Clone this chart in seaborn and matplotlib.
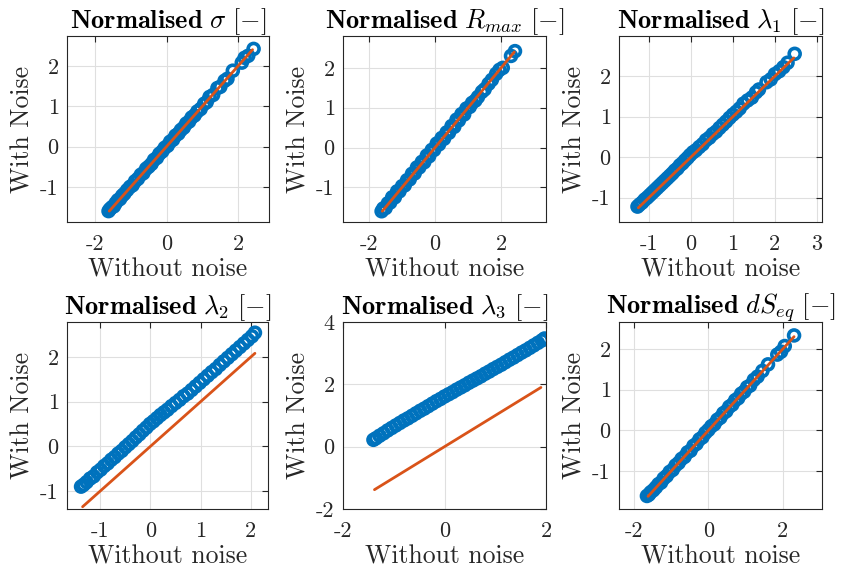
import numpy as np
import pandas as pd
import matplotlib
matplotlib.use("Agg")
import matplotlib.pyplot as plt
import seaborn as sns

# ---------------- data ----------------
titles = [r"$\mathbf{Normalised}\ \sigma\ [-]$",
          r"$\mathbf{Normalised}\ R_{max}\ [-]$",
          r"$\mathbf{Normalised}\ \lambda_1\ [-]$",
          r"$\mathbf{Normalised}\ \lambda_2\ [-]$",
          r"$\mathbf{Normalised}\ \lambda_3\ [-]$",
          r"$\mathbf{Normalised}\ dS_{eq}\ [-]$"]

x_sigma = [-1.62, -1.58, -1.52, -1.47, -1.42, -1.36, -1.3, -1.24, -1.18, -1.1, -1.02, -0.95, -0.88, -0.8,
           -0.72, -0.65, -0.57, -0.5, -0.42, -0.35, -0.27, -0.2, -0.12, -0.05, 0.03, 0.1, 0.18, 0.25, 0.33,
           0.4, 0.48, 0.55, 0.63, 0.7, 0.78, 0.86, 0.95, 1.05, 1.12, 1.2, 1.3, 1.42, 1.5, 1.62, 1.7, 1.85,
           2.1, 2.18, 2.28, 2.43]
y_sigma = [-1.6, -1.55, -1.5, -1.48, -1.4, -1.33, -1.3, -1.22, -1.17, -1.08, -1.0, -0.96, -0.86, -0.8,
           -0.7, -0.66, -0.55, -0.5, -0.43, -0.33, -0.28, -0.18, -0.12, -0.03, 0.02, 0.12, 0.17, 0.27, 0.32,
           0.41, 0.47, 0.57, 0.62, 0.72, 0.77, 0.87, 0.93, 1.06, 1.1, 1.23, 1.28, 1.45, 1.48, 1.63, 1.68, 1.88,
           2.08, 2.2, 2.25, 2.42]

x_rmax = [-1.62, -1.57, -1.5, -1.43, -1.36, -1.3, -1.22, -1.15, -1.08, -1.0, -0.92, -0.85, -0.77, -0.7,
          -0.62, -0.55, -0.48, -0.4, -0.33, -0.25, -0.18, -0.1, -0.03, 0.05, 0.12, 0.2, 0.27, 0.35, 0.42,
          0.5, 0.58, 0.65, 0.72, 0.8, 0.88, 0.95, 1.05, 1.12, 1.22, 1.3, 1.42, 1.5, 1.62, 1.72, 1.85, 1.95,
          2.05, 2.3, 2.42]
y_rmax = [-1.6, -1.53, -1.52, -1.4, -1.38, -1.25, -1.25, -1.1, -1.1, -0.97, -0.95, -0.82, -0.8, -0.66,
          -0.65, -0.5, -0.5, -0.36, -0.37, -0.2, -0.22, -0.06, -0.06, 0.1, 0.08, 0.24, 0.22, 0.38, 0.37,
          0.54, 0.52, 0.7, 0.68, 0.84, 0.83, 0.98, 1.02, 1.12, 1.18, 1.27, 1.4, 1.46, 1.6, 1.7, 1.85, 1.95,
          2.0, 2.3, 2.42]

x_lam1 = [-1.27, -1.22, -1.16, -1.1, -1.04, -0.98, -0.92, -0.86, -0.8, -0.74, -0.68, -0.62, -0.56, -0.5,
          -0.44, -0.38, -0.32, -0.26, -0.2, -0.14, -0.08, -0.02, 0.05, 0.12, 0.2, 0.28, 0.36, 0.44, 0.52,
          0.6, 0.68, 0.76, 0.84, 0.92, 1.0, 1.08, 1.16, 1.25, 1.35, 1.45, 1.55, 1.62, 1.8, 1.9, 2.0, 2.1,
          2.2, 2.3, 2.47]
y_lam1 = [-1.22, -1.17, -1.12, -1.05, -1.0, -0.94, -0.88, -0.82, -0.76, -0.7, -0.64, -0.58, -0.52, -0.46,
          -0.4, -0.33, -0.28, -0.2, -0.15, -0.08, -0.02, 0.05, 0.12, 0.17, 0.25, 0.32, 0.42, 0.48, 0.57,
          0.63, 0.72, 0.8, 0.88, 0.97, 1.05, 1.12, 1.2, 1.32, 1.4, 1.47, 1.6, 1.67, 1.85, 1.92, 2.05, 2.12,
          2.22, 2.33, 2.55]

x_lam2 = [-1.38, -1.33, -1.27, -1.2, -1.13, -1.06, -0.99, -0.92, -0.85, -0.78, -0.71, -0.64, -0.57, -0.5,
          -0.43, -0.36, -0.29, -0.22, -0.15, -0.08, -0.01, 0.06, 0.13, 0.2, 0.27, 0.34, 0.42, 0.5, 0.58,
          0.66, 0.74, 0.82, 0.9, 0.98, 1.06, 1.14, 1.22, 1.3, 1.38, 1.46, 1.54, 1.62, 1.7, 1.78, 1.86, 1.94,
          2.02, 2.08]
y_lam2 = [-0.9, -0.86, -0.8, -0.72, -0.67, -0.58, -0.52, -0.44, -0.38, -0.3, -0.24, -0.16, -0.1, -0.02,
          0.05, 0.12, 0.2, 0.27, 0.35, 0.42, 0.5, 0.56, 0.63, 0.7, 0.76, 0.82, 0.9, 0.97, 1.04, 1.12, 1.18,
          1.26, 1.34, 1.42, 1.5, 1.58, 1.66, 1.73, 1.82, 1.9, 1.98, 2.06, 2.14, 2.22, 2.3, 2.38, 2.46, 2.54]

x_lam3 = [-1.4, -1.35, -1.28, -1.2, -1.12, -1.04, -0.96, -0.88, -0.8, -0.72, -0.64, -0.56, -0.48, -0.4,
          -0.32, -0.24, -0.16, -0.08, 0.0, 0.08, 0.16, 0.24, 0.32, 0.4, 0.48, 0.56, 0.64, 0.72, 0.8, 0.88,
          0.96, 1.04, 1.12, 1.2, 1.28, 1.36, 1.44, 1.52, 1.6, 1.68, 1.76, 1.84, 1.92, 1.97]
y_lam3 = [0.22, 0.27, 0.35, 0.43, 0.52, 0.6, 0.68, 0.76, 0.84, 0.91, 0.99, 1.07, 1.15, 1.22, 1.3, 1.38,
          1.46, 1.53, 1.61, 1.68, 1.75, 1.83, 1.9, 1.97, 2.05, 2.12, 2.19, 2.26, 2.34, 2.41, 2.49, 2.56,
          2.63, 2.71, 2.79, 2.86, 2.94, 3.02, 3.09, 3.17, 3.25, 3.33, 3.41, 3.47]

x_dseq = [-1.65, -1.6, -1.55, -1.48, -1.41, -1.34, -1.27, -1.2, -1.12, -1.04, -0.96, -0.88, -0.8, -0.72,
          -0.64, -0.56, -0.48, -0.4, -0.32, -0.24, -0.16, -0.08, 0.0, 0.08, 0.16, 0.24, 0.32, 0.4, 0.48,
          0.56, 0.64, 0.72, 0.8, 0.88, 0.96, 1.04, 1.12, 1.22, 1.32, 1.45, 1.6, 1.85, 1.95, 2.05, 2.3]
y_dseq = [-1.61, -1.58, -1.52, -1.47, -1.4, -1.32, -1.28, -1.18, -1.12, -1.02, -0.97, -0.86, -0.8, -0.7,
          -0.65, -0.54, -0.5, -0.38, -0.33, -0.22, -0.17, -0.06, 0.01, 0.1, 0.15, 0.26, 0.31, 0.42, 0.47,
          0.58, 0.63, 0.74, 0.79, 0.9, 0.95, 1.06, 1.1, 1.24, 1.32, 1.46, 1.62, 1.86, 1.93, 2.07, 2.33]

# reference line (y = x) end points
line_ends = [(-1.6, 2.4), (-1.6, 2.4), (-1.25, 2.45), (-1.35, 2.08), (-1.38, 1.9), (-1.62, 2.3)]

xs = [x_sigma, x_rmax, x_lam1, x_lam2, x_lam3, x_dseq]
ys = [y_sigma, y_rmax, y_lam1, y_lam2, y_lam3, y_dseq]

xlims = [(-2.78, 2.86), (-2.79, 3.36), (-1.71, 3.12), (-1.66, 2.34), (-2, 2), (-2.4, 3.05)]
ylims = [(-1.87, 2.74), (-1.87, 2.8), (-1.6, 2.99), (-1.4, 2.78), (-2, 4), (-1.93, 2.66)]
xticks = [[-2, 0, 2], [-2, 0, 2], [-1, 0, 1, 2, 3], [-1, 0, 1, 2], [-2, 0, 2], [-2, 0, 2]]
yticks = [[-1, 0, 1, 2], [-1, 0, 1, 2], [-1, 0, 1, 2], [-1, 0, 1, 2], [-2, 0, 2, 4], [-1, 0, 1, 2]]

# ---------------- style ----------------
sns.set_style("white")
plt.rcParams.update({
    "font.family": ["serif"],
    "font.serif": ["cmr10"],
    "mathtext.fontset": "cm",
    "axes.unicode_minus": False,
    "axes.formatter.use_mathtext": False,
})

BLUE = "#0072BD"
RED = "#D95319"
EDGE = "#262626"

fig = plt.figure(figsize=(8.49, 5.72), dpi=100)
W, H = 849.0, 572.0
boxes = [(67, 269, 36, 222), (343, 546, 36, 222), (619, 822, 36, 222),
         (67, 268, 322, 509), (343, 546, 322, 509), (619, 822, 322, 509)]

for i in range(6):
    l, r, t, b = boxes[i]
    ax = fig.add_axes([l / W, 1 - b / H, (r - l) / W, (b - t) / H])
    df = pd.DataFrame({"x": xs[i], "y": ys[i]})
    sns.scatterplot(data=df, x="x", y="y", ax=ax, marker="o", s=62,
                    facecolors="none", edgecolor=BLUE, linewidth=2.6, zorder=3)
    le = pd.DataFrame({"x": list(line_ends[i]), "y": list(line_ends[i])})
    sns.lineplot(data=le, x="x", y="y", ax=ax, color=RED, linewidth=2.0, zorder=4)
    ax.set_xlim(*xlims[i])
    ax.set_ylim(*ylims[i])
    ax.set_xticks(xticks[i])
    ax.set_yticks(yticks[i])
    ax.set_xticklabels([str(v) for v in xticks[i]])
    ax.set_yticklabels([str(v) for v in yticks[i]])
    ax.grid(True, color="#dfdfdf", linewidth=0.8, zorder=0)
    ax.set_axisbelow(True)
    for sp in ax.spines.values():
        sp.set_color(EDGE)
        sp.set_linewidth(0.8)
        sp.set_visible(True)
    ax.tick_params(axis="x", pad=9)
    ax.tick_params(axis="y", pad=6)
    ax.tick_params(direction="in", length=4, width=0.8, color=EDGE,
                   top=True, right=True, labelsize=16, labelcolor=EDGE)
    ax.set_xlabel("Without noise", fontsize=18.5, color=EDGE, labelpad=3)
    ax.set_ylabel("With Noise", fontsize=18.5, color=EDGE, labelpad=4)
    ax.set_title(titles[i], fontsize=19, color="black", pad=6)

fig.savefig("out.png", dpi=100)
